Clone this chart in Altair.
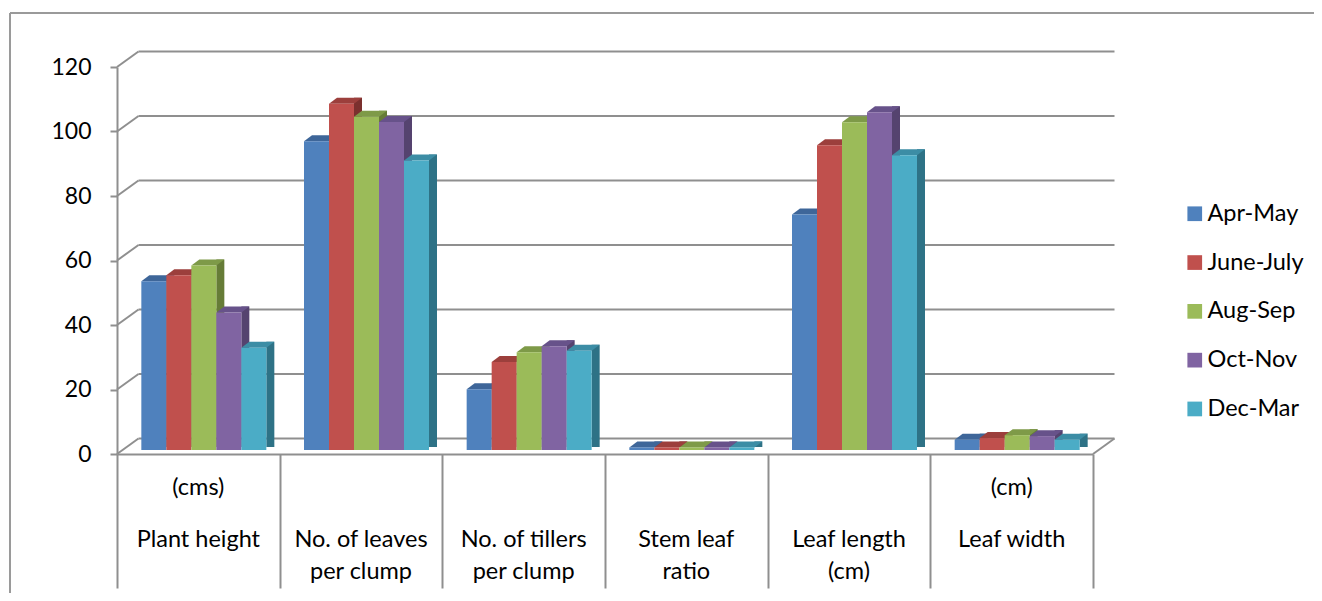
import altair as alt
import pandas as pd

# ---------------- data ----------------
categories = ["Plant height (cms)", "No. of leaves per clump", "No. of tillers per clump",
              "Stem leaf ratio", "Leaf length (cm)", "Leaf width (cm)"]
label_top = ["(cms)", "", "", "", "", "(cm)"]
label_mid = ["Plant height", "No. of leaves", "No. of tillers", "Stem leaf", "Leaf length", "Leaf width"]
label_bot = ["", "per clump", "per clump", "ratio", "(cm)", ""]

seasons = ["Apr-May", "June-July", "Aug-Sep", "Oct-Nov", "Dec-Mar"]
apr_may = [52.3, 95.7, 18.8, 0.8, 73.0, 3.2]
june_july = [54.2, 107.4, 27.3, 0.8, 94.5, 3.7]
aug_sep = [57.2, 103.3, 30.3, 0.8, 101.6, 4.6]
oct_nov = [42.6, 101.7, 32.2, 0.8, 104.7, 4.3]
dec_mar = [31.7, 89.8, 30.8, 0.8, 91.4, 3.2]
y_ticks = [0, 20, 40, 60, 80, 100, 120]

front_colors = ["#4F81BD", "#C0504D", "#9BBB59", "#8064A2", "#4BACC6"]
top_colors = ["#3E6699", "#9C3F3C", "#7E9A48", "#67528A", "#3C8DA5"]
side_colors = ["#2F5180", "#7B302E", "#667C37", "#55436F", "#2E7286"]

series_values = [apr_may, june_july, aug_sep, oct_nov, dec_mar]
rows = []
for si, (s, vals) in enumerate(zip(seasons, series_values)):
    for ci, (c, v) in enumerate(zip(categories, vals)):
        rows.append({"category": c, "ci": ci, "season": s, "si": si, "value": v})
df = pd.DataFrame(rows)
labels_df = pd.DataFrame({"category": categories, "ci": list(range(len(categories))),
                          "top": label_top, "mid": label_mid, "bot": label_bot})
ticks_df = pd.DataFrame({"v": y_ticks})
zero_df = pd.DataFrame({"v": [0]})
one_df = pd.DataFrame({"k": [0]})

# ---------------- geometry ----------------
W, H = 976, 387
GRAY = "#8f8f8f"
FONT = "Lato"
FS_AX = 23
FS = 23.5
BW = 25.0                       # bar width (px)
step = W / len(categories)
U = BW / step                   # bar width in category units
NS = len(seasons)
DX, DY = 21.5, 15.5             # depth of the wall / floor
BX, BY = 5.5, 4.0               # bar row depth shift
TX, TY = 8.0, 6.0               # bar depth

xscale = alt.Scale(domain=[0, len(categories)], nice=False, zero=False)
yscale = alt.Scale(domain=[0, 120], nice=False, zero=True)
xaxis = alt.Axis(values=list(range(len(categories) + 1)), labels=False, title=None, grid=False,
                 tickSize=134, tickColor=GRAY, tickWidth=2, domainColor=GRAY, domainWidth=2)
yaxis = alt.Axis(values=y_ticks, title=None, grid=False, tickSize=7,
                 tickColor=GRAY, tickWidth=2, domainColor=GRAY, domainWidth=2,
                 labelFont=FONT, labelFontSize=FS_AX, labelColor="black", labelPadding=19)

base = alt.Chart(df).transform_calculate(
    xl=f"datum.ci + 0.5 + (datum.si - {NS / 2}) * {U}",
    xr=f"datum.ci + 0.5 + (datum.si - {NS / 2} + 1) * {U}",
    xc=f"datum.ci + 0.5 + (datum.si - {NS / 2} + 0.5) * {U}",
)

# back wall gridlines
grid = alt.Chart(ticks_df).mark_rule(color=GRAY, strokeWidth=2, yOffset=-DY).encode(
    y=alt.Y("v:Q", scale=yscale, axis=yaxis),
    x=alt.value(DX), x2=alt.value(W + DX))
diag = alt.Chart(ticks_df).mark_rule(color=GRAY, strokeWidth=2, y2Offset=-DY).encode(
    y=alt.Y("v:Q", scale=yscale, axis=yaxis), y2=alt.Y2("v"),
    x=alt.value(0), x2=alt.value(DX))
diag_r = alt.Chart(zero_df).mark_rule(color=GRAY, strokeWidth=2, y2Offset=-DY).encode(
    y=alt.Y("v:Q", scale=yscale, axis=yaxis), y2=alt.Y2("v"),
    x=alt.value(W), x2=alt.value(W + DX))

# bar faces
sides = base.mark_bar(xOffset=BX, x2Offset=BX + TX,
                      yOffset=-BY - TY, y2Offset=-BY - TY / 2).encode(
    x=alt.X("xr:Q", scale=xscale, axis=xaxis), x2=alt.X2("xr:Q"),
    y=alt.Y("value:Q", scale=yscale, axis=yaxis, stack=None), y2=alt.datum(0),
    color=alt.Color("season:N", sort=seasons,
                    scale=alt.Scale(domain=seasons, range=side_colors), legend=None))

top_path = f"M{-BW/2},0 L{BW/2},0 L{BW/2+TX},{-TY} L{-BW/2+TX},{-TY} Z"
tops = base.mark_point(shape=top_path, size=4, filled=True, opacity=1,
                       strokeWidth=0, xOffset=BX, yOffset=-BY).encode(
    x=alt.X("xc:Q", scale=xscale, axis=xaxis),
    y=alt.Y("value:Q", scale=yscale, axis=yaxis),
    color=alt.Color("season:N", sort=seasons,
                    scale=alt.Scale(domain=seasons, range=top_colors), legend=None))

fronts = base.mark_bar(xOffset=BX, x2Offset=BX, yOffset=-BY, y2Offset=-BY).encode(
    x=alt.X("xl:Q", scale=xscale, axis=xaxis), x2=alt.X2("xr:Q"),
    y=alt.Y("value:Q", scale=yscale, axis=yaxis, stack=None),
    y2=alt.datum(0),
    color=alt.Color("season:N", sort=seasons,
                    scale=alt.Scale(domain=seasons, range=front_colors),
                    legend=alt.Legend(title=None, orient="none", legendX=1066, legendY=135,
                                      symbolType="square", symbolSize=216,
                                      symbolStrokeWidth=0, labelFont=FONT,
                                      labelFontSize=FS, labelColor="black",
                                      rowPadding=23.8, labelOffset=1, padding=0)))

def label_layer(field, ypix):
    return alt.Chart(labels_df).transform_calculate(xm="datum.ci + 0.5").mark_text(
        font=FONT, fontSize=FS, color="black", baseline="middle").encode(
        x=alt.X("xm:Q", scale=xscale, axis=xaxis), y=alt.value(ypix), text=f"{field}:N")

lab1 = label_layer("top", 421)
lab2 = label_layer("mid", 473)
lab3 = label_layer("bot", 505)

# outer frame
frame_l = alt.Chart(one_df).mark_rule(color="#9a9a9a", strokeWidth=2).encode(
    x=alt.value(-107), y=alt.value(-54), y2=alt.value(H + 150))
frame_t = alt.Chart(one_df).mark_rule(color="#9a9a9a", strokeWidth=2).encode(
    y=alt.value(-54), x=alt.value(-107), x2=alt.value(W + 240))

chart = alt.layer(frame_l, frame_t, grid, diag, diag_r, sides, tops, fronts, lab1, lab2, lab3).resolve_scale(
    color="independent"
).properties(
    width=W, height=H,
    padding={"left": 109, "top": 59, "right": 221, "bottom": 139},
    autosize=alt.AutoSizeParams(type="none"),
    background="white",
).configure_view(stroke=None)

chart.save("out.html", embed_options={"renderer": "svg", "actions": False})
